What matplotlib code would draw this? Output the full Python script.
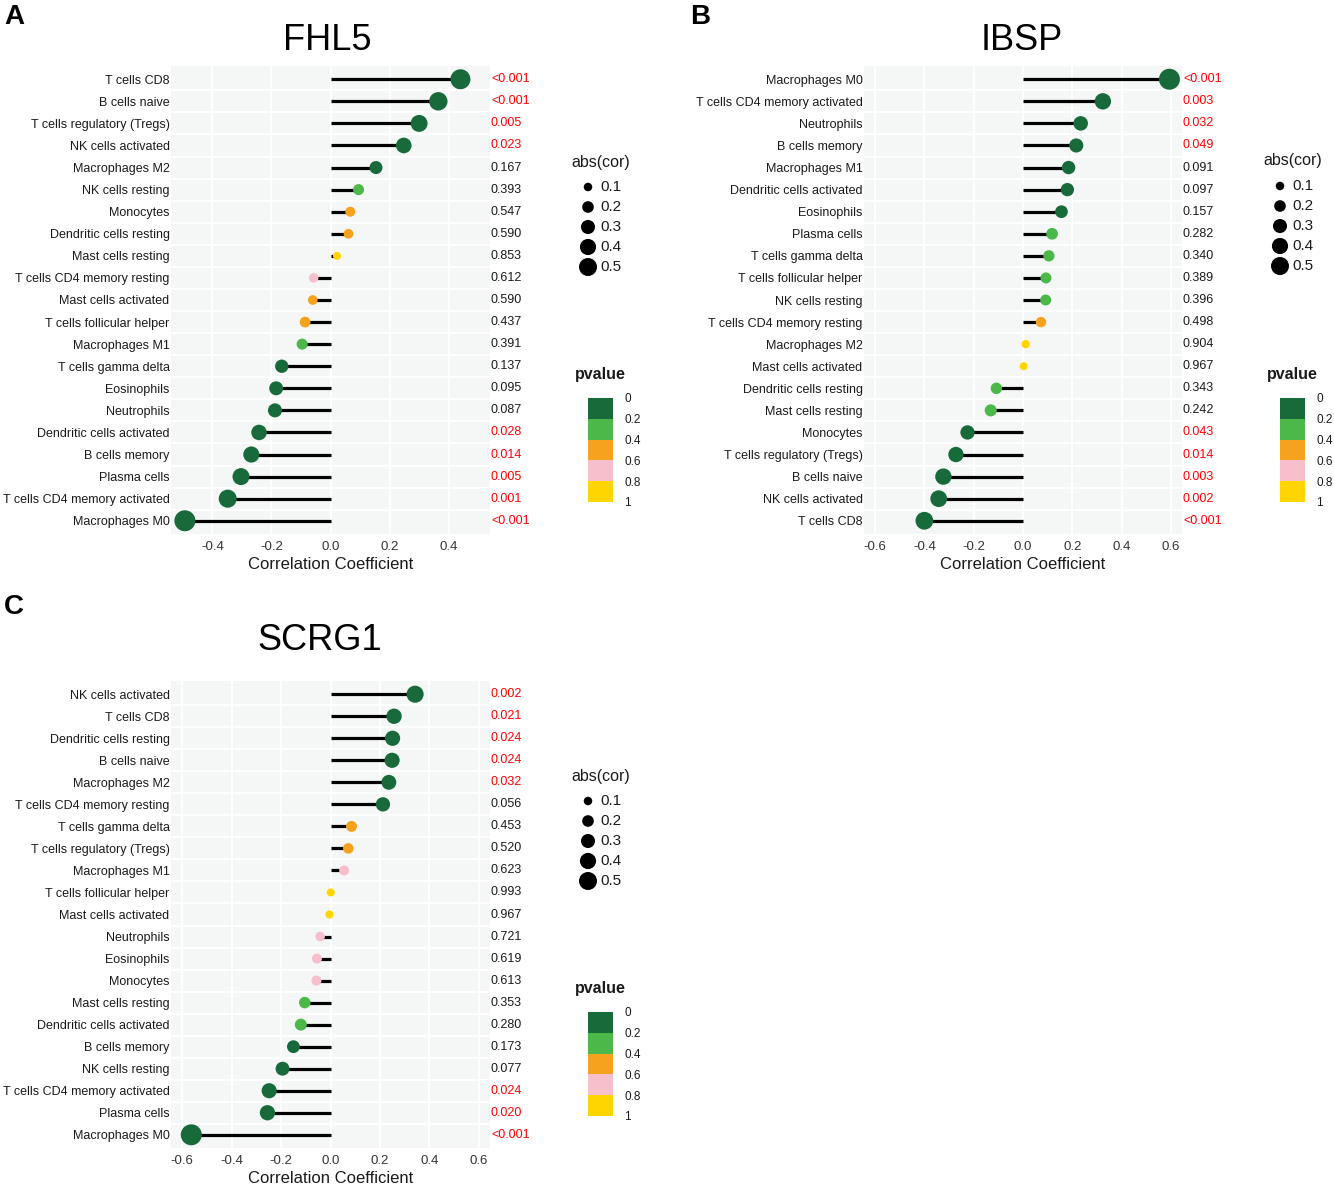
import numpy as np
import matplotlib
matplotlib.use('Agg')
import matplotlib.pyplot as plt
import matplotlib.transforms as mtransforms
from matplotlib.colors import ListedColormap, BoundaryNorm
from matplotlib.cm import ScalarMappable

plt.rcParams['font.family'] = ['Liberation Sans', 'DejaVu Sans']

W, H = 1334, 1186
DPI = 100

# ---- panel A: FHL5 (top to bottom)
fhl5_cells = ['T cells CD8', 'B cells naive', 'T cells regulatory (Tregs)',
              'NK cells activated', 'Macrophages M2', 'NK cells resting',
              'Monocytes', 'Dendritic cells resting', 'Mast cells resting',
              'T cells CD4 memory resting', 'Mast cells activated',
              'T cells follicular helper', 'Macrophages M1',
              'T cells gamma delta', 'Eosinophils', 'Neutrophils',
              'Dendritic cells activated', 'B cells memory', 'Plasma cells',
              'T cells CD4 memory activated', 'Macrophages M0']
fhl5_cor = [0.440, 0.365, 0.300, 0.248, 0.154, 0.095, 0.067, 0.061, 0.022,
            -0.057, -0.060, -0.086, -0.096, -0.165, -0.184, -0.188, -0.242,
            -0.268, -0.303, -0.348, -0.493]
fhl5_p = [0.0004, 0.0004, 0.005, 0.023, 0.167, 0.393, 0.547, 0.590, 0.853,
          0.612, 0.590, 0.437, 0.391, 0.137, 0.095, 0.087, 0.028, 0.014,
          0.005, 0.001, 0.0004]

# ---- panel B: IBSP
ibsp_cells = ['Macrophages M0', 'T cells CD4 memory activated', 'Neutrophils',
              'B cells memory', 'Macrophages M1', 'Dendritic cells activated',
              'Eosinophils', 'Plasma cells', 'T cells gamma delta',
              'T cells follicular helper', 'NK cells resting',
              'T cells CD4 memory resting', 'Macrophages M2',
              'Mast cells activated', 'Dendritic cells resting',
              'Mast cells resting', 'Monocytes', 'T cells regulatory (Tregs)',
              'B cells naive', 'NK cells activated', 'T cells CD8']
ibsp_cor = [0.594, 0.324, 0.234, 0.216, 0.185, 0.180, 0.156, 0.118, 0.105,
            0.093, 0.092, 0.073, 0.011, 0.003, -0.108, -0.131, -0.225,
            -0.272, -0.323, -0.342, -0.400]
ibsp_p = [0.0004, 0.003, 0.032, 0.049, 0.091, 0.097, 0.157, 0.282, 0.340,
          0.389, 0.396, 0.498, 0.904, 0.967, 0.343, 0.242, 0.043, 0.014,
          0.003, 0.002, 0.0004]

# ---- panel C: SCRG1
scrg1_cells = ['NK cells activated', 'T cells CD8', 'Dendritic cells resting',
               'B cells naive', 'Macrophages M2', 'T cells CD4 memory resting',
               'T cells gamma delta', 'T cells regulatory (Tregs)',
               'Macrophages M1', 'T cells follicular helper',
               'Mast cells activated', 'Neutrophils', 'Eosinophils',
               'Monocytes', 'Mast cells resting', 'Dendritic cells activated',
               'B cells memory', 'NK cells resting',
               'T cells CD4 memory activated', 'Plasma cells',
               'Macrophages M0']
scrg1_cor = [0.342, 0.257, 0.251, 0.249, 0.236, 0.212, 0.085, 0.072, 0.055,
             0.001, -0.004, -0.042, -0.055, -0.057, -0.104, -0.120, -0.150,
             -0.194, -0.248, -0.255, -0.563]
scrg1_p = [0.002, 0.021, 0.024, 0.024, 0.032, 0.056, 0.453, 0.520, 0.623,
           0.993, 0.967, 0.721, 0.619, 0.613, 0.353, 0.280, 0.173, 0.077,
           0.024, 0.020, 0.0004]

PVAL_BINS = [0, 0.2, 0.4, 0.6, 0.8, 1.0]
PVAL_TICKLABELS = ['0', '0.2', '0.4', '0.6', '0.8', '1']
PVAL_COLORS = ['#186a3b', '#4cb84a', '#f6a21e', '#f7bfcc', '#ffd500']
SIZE_BREAKS = [0.1, 0.2, 0.3, 0.4, 0.5]
XTICKS_A = [-0.4, -0.2, 0.0, 0.2, 0.4]
XTICKS_BC = [-0.6, -0.4, -0.2, 0.0, 0.2, 0.4, 0.6]

cmap = ListedColormap(PVAL_COLORS)
norm = BoundaryNorm(PVAL_BINS, cmap.N)


def px_rect(x0, y0, x1, y1):
    """pixel box (top-left origin) -> figure fraction rect"""
    return [x0 / W, 1 - y1 / H, (x1 - x0) / W, (y1 - y0) / H]


def area_scale(v, lo, hi, dmin, dmax):
    """ggplot-like size scale: area linear in value, returns points^2"""
    t = np.clip((np.asarray(v, dtype=float) - lo) / (hi - lo), 0, 1)
    d_px = np.sqrt(dmin ** 2 + (dmax ** 2 - dmin ** 2) * t)
    return (d_px * 72.0 / DPI) ** 2


def p_label(p):
    return '<0.001' if p < 0.001 else '{0:.3f}'.format(p)


def lollipop(fig, rect, cells, cor, pvals, xlim, xticks):
    ax = fig.add_axes(rect)
    n = len(cells)
    y = np.arange(n)
    cor = np.asarray(cor)
    ax.set_facecolor('#f5f7f7')
    ax.set_xlim(xlim)
    ax.set_ylim(n - 0.4, -0.6)
    for spine in ax.spines.values():
        spine.set_visible(False)

    ax.set_xticks(xticks)
    ax.set_xticklabels(['{0:.1f}'.format(t) for t in xticks])
    ax.set_yticks(y)
    ax.set_yticklabels(cells)
    ax.set_yticks(y[:-1] + 0.5, minor=True)
    ax.tick_params(axis='y', which='both', length=0, pad=1,
                   labelsize=9, labelcolor='#1a1a1a')
    ax.tick_params(axis='x', length=0, pad=5, labelsize=9.5,
                   labelcolor='#333333')
    ax.grid(axis='x', which='major', color='white', lw=1.3)
    ax.grid(axis='y', which='minor', color='white', lw=1.3)
    ax.set_axisbelow(True)
    ax.set_xlabel('Correlation Coefficient', fontsize=12, labelpad=3,
                  color='#1a1a1a')

    ax.hlines(y, 0, cor, color='black', lw=2.3, zorder=2)
    a = np.abs(cor)
    ax.scatter(cor, y, s=area_scale(a, a.min(), a.max(), 8, 21), c=pvals,
               cmap=cmap, norm=norm, linewidths=0, zorder=3)

    trans = mtransforms.blended_transform_factory(ax.transAxes, ax.transData)
    for yi, p in zip(y, pvals):
        ax.text(1.003, yi, p_label(p), transform=trans, ha='left',
                va='center', fontsize=9,
                color='#ff0000' if p < 0.05 else '#1a1a1a', clip_on=False)
    return ax


def legends(fig, ov, x0, y_abs, y_pv):
    # abs(cor) size legend
    ov.text(x0 + 13, y_abs, 'abs(cor)', ha='center', va='center',
            fontsize=11.5, color='#1a1a1a')
    ys = y_abs + 25 + 20 * np.arange(len(SIZE_BREAKS))
    ov.scatter(np.full(len(SIZE_BREAKS), x0), ys,
               s=area_scale(SIZE_BREAKS, 0.1, 0.5, 8.5, 18),
               color='black', linewidths=0)
    for yy, b in zip(ys, SIZE_BREAKS):
        ov.text(x0 + 12, yy, '{0:.1f}'.format(b), ha='left', va='center',
                fontsize=11, color='#1a1a1a')

    # pvalue colour legend
    ov.text(x0 + 12, y_pv, 'pvalue', ha='center', va='center',
            fontsize=11.5, fontweight='bold', color='#1a1a1a')
    cax = fig.add_axes(px_rect(x0, y_pv + 23, x0 + 25, y_pv + 127))
    cb = fig.colorbar(ScalarMappable(norm=norm, cmap=cmap), cax=cax,
                      ticks=PVAL_BINS)
    cb.outline.set_visible(False)
    cb.set_ticklabels(PVAL_TICKLABELS)
    cax.invert_yaxis()
    cax.tick_params(length=0, labelsize=8.5, pad=8, labelcolor='#1a1a1a')


fig = plt.figure(figsize=(W / DPI, H / DPI), dpi=DPI)

ov = fig.add_axes([0, 0, 1, 1], zorder=-1)
ov.set_xlim(0, W)
ov.set_ylim(H, 0)
ov.axis('off')

lollipop(fig, px_rect(171, 66, 490, 534), fhl5_cells, fhl5_cor, fhl5_p,
         (-0.54, 0.54), XTICKS_A)
lollipop(fig, px_rect(864, 66, 1182, 534), ibsp_cells, ibsp_cor, ibsp_p,
         (-0.645, 0.645), XTICKS_BC)
lollipop(fig, px_rect(171, 681, 490, 1148), scrg1_cells, scrg1_cor, scrg1_p,
         (-0.645, 0.645), XTICKS_BC)

legends(fig, ov, 588, 162, 375)
legends(fig, ov, 1280, 161, 375)
legends(fig, ov, 588, 776, 989)

# titles and panel letters
ov.text(327, 41, 'FHL5', ha='center', va='center', fontsize=26)
ov.text(1022, 41, 'IBSP', ha='center', va='center', fontsize=26)
ov.text(320, 641, 'SCRG1', ha='center', va='center', fontsize=26)
for letter, (lx, ly) in zip('ABC', [(4, 17), (690, 17), (4, 607)]):
    ov.text(lx, ly, letter, ha='left', va='center', fontsize=20,
            fontweight='bold')

plt.savefig('out.png', dpi=DPI)
plt.close()
